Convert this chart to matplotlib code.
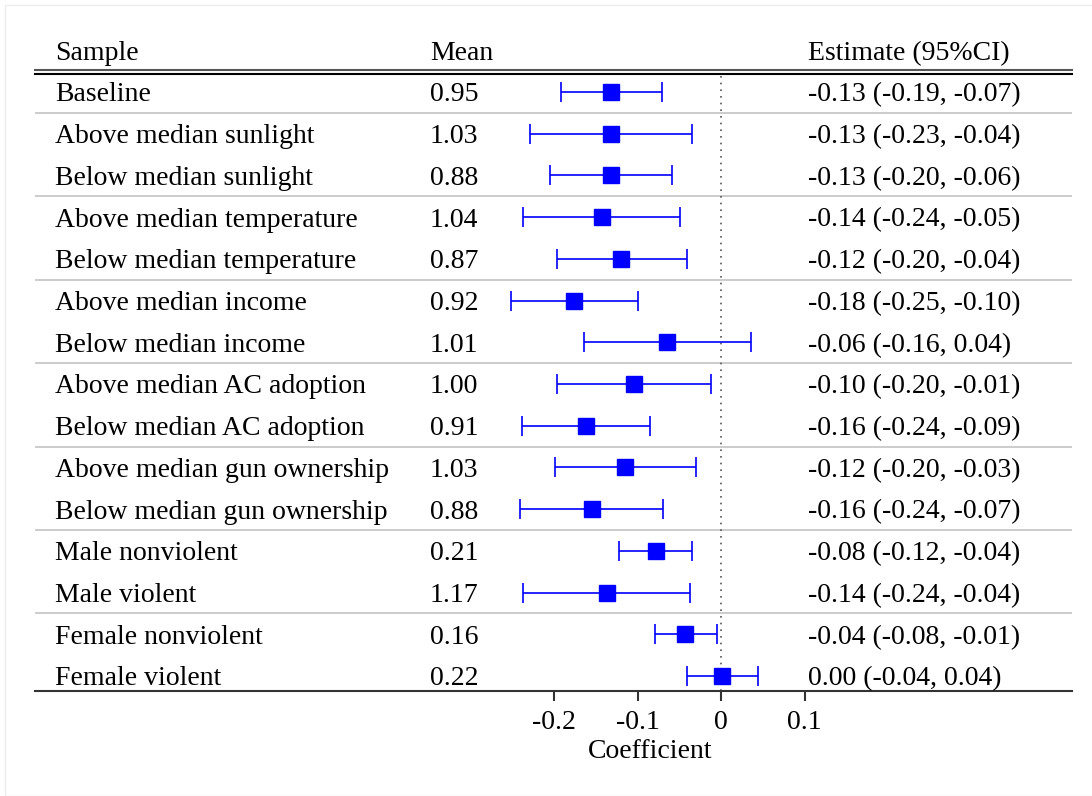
import matplotlib.pyplot as plt
import matplotlib.transforms as mtransforms
from matplotlib.patches import Rectangle

plt.rcParams['font.family'] = ['Liberation Serif', 'DejaVu Serif']

samples = ['Baseline', 'Above median sunlight', 'Below median sunlight',
           'Above median temperature', 'Below median temperature',
           'Above median income', 'Below median income',
           'Above median AC adoption', 'Below median AC adoption',
           'Above median gun ownership', 'Below median gun ownership',
           'Male nonviolent', 'Male violent',
           'Female nonviolent', 'Female violent']
means = ['0.95', '1.03', '0.88', '1.04', '0.87', '0.92', '1.01', '1.00',
         '0.91', '1.03', '0.88', '0.21', '1.17', '0.16', '0.22']
est_text = ['-0.13 (-0.19, -0.07)', '-0.13 (-0.23, -0.04)', '-0.13 (-0.20, -0.06)',
            '-0.14 (-0.24, -0.05)', '-0.12 (-0.20, -0.04)', '-0.18 (-0.25, -0.10)',
            '-0.06 (-0.16, 0.04)', '-0.10 (-0.20, -0.01)', '-0.16 (-0.24, -0.09)',
            '-0.12 (-0.20, -0.03)', '-0.16 (-0.24, -0.07)', '-0.08 (-0.12, -0.04)',
            '-0.14 (-0.24, -0.04)', '-0.04 (-0.08, -0.01)', '0.00 (-0.04, 0.04)']
# plotted values
est = [-0.1325, -0.132, -0.132, -0.1433, -0.1196, -0.1764, -0.0650, -0.1042,
       -0.1624, -0.1153, -0.1552, -0.0782, -0.1372, -0.0431, 0.0012]
lo = [-0.1923, -0.2295, -0.2056, -0.2375, -0.1963, -0.2522, -0.1644, -0.1964,
      -0.2387, -0.1995, -0.2407, -0.1222, -0.2375, -0.0790, -0.0414]
hi = [-0.0714, -0.0346, -0.0593, -0.0491, -0.0411, -0.1001, 0.0352, -0.0120,
      -0.0850, -0.0299, -0.0698, -0.0347, -0.0371, -0.0055, 0.0436]
group_breaks = [0.5, 2.5, 4.5, 6.5, 8.5, 10.5, 12.5]
xticks = [-0.2, -0.1, 0, 0.1]
xticklabels = ['-0.2', '-0.1', '0', '0.1']

W, H = 1092, 796
fig = plt.figure(figsize=(W / 100, H / 100), dpi=100)
fig.patches.append(Rectangle((5 / W, 0), 1, 1 - 5 / H, transform=fig.transFigure,
                             fill=False, edgecolor='#ececec', linewidth=1))

# axes spans the table width; x scale: 0 at px 721.3, 0.1 per 83.5 px
left_px, right_px, top_px, bot_px = 35, 1072, 72, 691
zero_px, px_per_unit = 721.3, 835
ax = fig.add_axes([left_px / W, 1 - bot_px / H, (right_px - left_px) / W,
                   (bot_px - top_px) / H])
ax.set_xlim((left_px - zero_px) / px_per_unit, (right_px - zero_px) / px_per_unit)
row_h = 41.71
ax.set_ylim((bot_px - 92) / row_h, (top_px - 92) / row_h)

fs = 20
y = list(range(len(samples)))
xerr = [[e - l for e, l in zip(est, lo)], [h - e for e, h in zip(est, hi)]]
ax.errorbar(est, y, xerr=xerr, fmt='s', color='blue', ecolor='blue',
            markersize=11.5, elinewidth=1.2, capsize=7, capthick=1.2, zorder=3)
ax.axvline(0, color='#555555', linestyle=(0, (1, 3)), linewidth=1.2, zorder=1)

for b in group_breaks:
    ax.axhline(b, color='#c8c8c8', linewidth=1.3, zorder=0)
ax.axhline(-0.53, color='#555555', linewidth=1.5, clip_on=False)
ax.axhline(-0.42, color='black', linewidth=1.5, clip_on=False)

for s in ['top', 'left', 'right']:
    ax.spines[s].set_visible(False)
ax.spines['bottom'].set_linewidth(1.5)
ax.spines['bottom'].set_color('#333333')
ax.set_yticks([])
ax.set_xticks(xticks)
ax.set_xticklabels(xticklabels, fontsize=fs)
ax.tick_params(axis='x', length=7, width=1.5, color='#333333', pad=7)
fig.text(650 / W, 1 - 752 / H, 'Coefficient', fontsize=fs, ha='center', va='center')

trans = mtransforms.blended_transform_factory(fig.transFigure, ax.transData)
dy = 0.07
ax.text(55 / W, -1 + dy, 'Sample', transform=trans, fontsize=fs, va='center')
ax.text(430 / W, -1 + dy, 'Mean', transform=trans, fontsize=fs, va='center')
ax.text(808 / W, -1 + dy, 'Estimate (95%CI)', transform=trans, fontsize=fs, va='center')
for i, (s, m, t) in enumerate(zip(samples, means, est_text)):
    ax.text(55 / W, i + dy, s, transform=trans, fontsize=fs, va='center')
    ax.text(430 / W, i + dy, m, transform=trans, fontsize=fs, va='center')
    ax.text(808 / W, i + dy, t, transform=trans, fontsize=fs, va='center')

fig.savefig('out.png', dpi=100)
